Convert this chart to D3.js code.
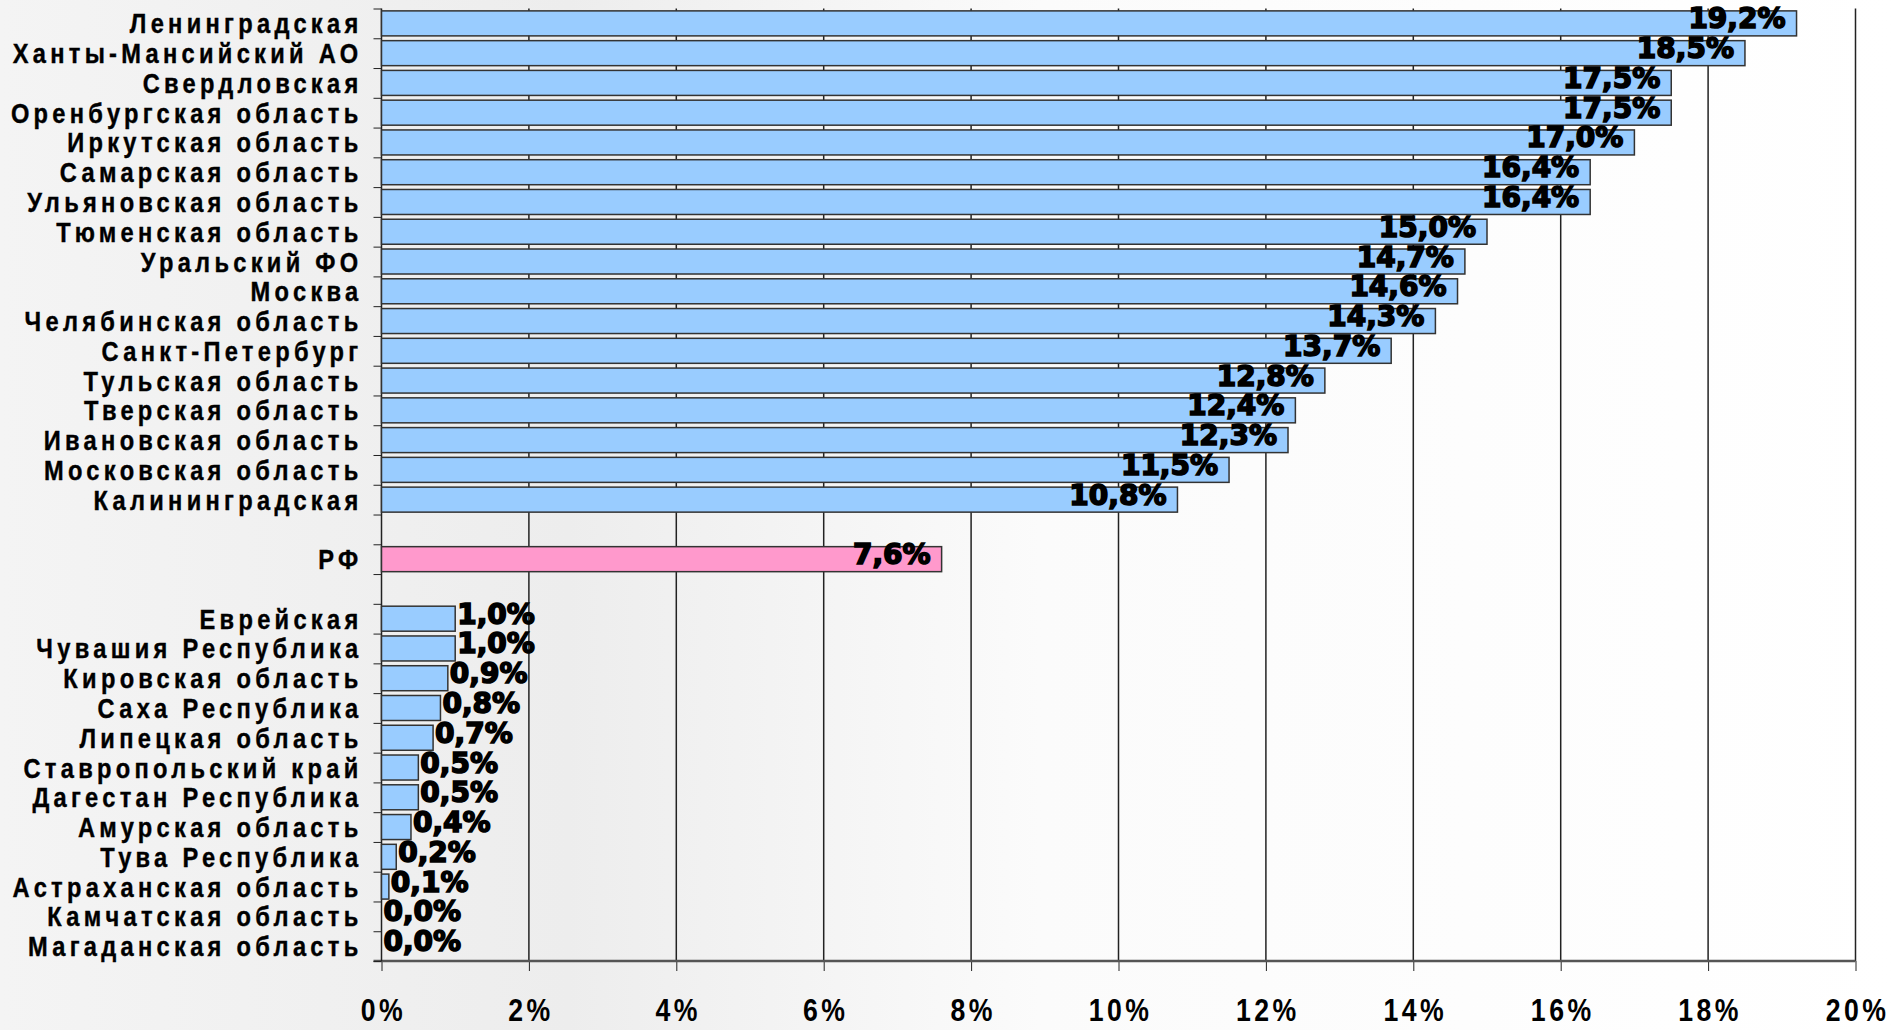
<!DOCTYPE html>
<html>
<head>
<meta charset="utf-8">
<script src="https://cdn.jsdelivr.net/npm/d3@7"></script>
<style>
  html, body { margin: 0; padding: 0; overflow: hidden; }
  svg { display: block; }
</style>
</head>
<body>
<svg id="chart" width="1893" height="1030"></svg>
<script>
// categories, top to bottom ("" = empty slot)
var regions = ["Ленинградская", "Ханты-Мансийский АО", "Свердловская", "Оренбургская область",
  "Иркутская область", "Самарская область", "Ульяновская область", "Тюменская область",
  "Уральский ФО", "Москва", "Челябинская область", "Санкт-Петербург", "Тульская область",
  "Тверская область", "Ивановская область", "Московская область", "Калининградская",
  "", "РФ", "",
  "Еврейская", "Чувашия Республика", "Кировская область", "Саха Республика",
  "Липецкая область", "Ставропольский край", "Дагестан Республика", "Амурская область",
  "Тува Республика", "Астраханская область", "Камчатская область", "Магаданская область"];

// values, %
var values = [19.2, 18.5, 17.5, 17.5, 17.0, 16.4, 16.4, 15.0, 14.7, 14.6, 14.3, 13.7, 12.8,
  12.4, 12.3, 11.5, 10.8, null, 7.6, null,
  1.0, 1.0, 0.9, 0.8, 0.7, 0.5, 0.5, 0.4, 0.2, 0.1, 0.0, 0.0];

var xTicks = [0, 2, 4, 6, 8, 10, 12, 14, 16, 18, 20];
var highlight = "РФ";

var margin = {top: 8.5, right: 37.5, bottom: 69, left: 381.5};

var svg = d3.select("#chart"),
  width = +svg.attr("width") - margin.left - margin.right,
  height = +svg.attr("height") - margin.top - margin.bottom;

// background gradient
var defs = svg.append("defs");
var grad = defs.append("linearGradient").attr("id", "bg")
  .attr("x1", "0%").attr("y1", "0%").attr("x2", "100%").attr("y2", "0%");
grad.append("stop").attr("offset", "0%").attr("stop-color", "#f4f4f4");
grad.append("stop").attr("offset", "30%").attr("stop-color", "#ededed");
grad.append("stop").attr("offset", "55%").attr("stop-color", "#fbfbfb");
grad.append("stop").attr("offset", "100%").attr("stop-color", "#ffffff");

svg.append("rect")
  .attr("width", 1893).attr("height", 1030)
  .attr("fill", "url(#bg)");

var g = svg.append("g")
  .attr("transform", "translate(" + margin.left + "," + margin.top + ")");

var x = d3.scaleLinear().domain([0, 20]).range([0, width]);

var y = d3.scaleBand()
  .domain(d3.range(regions.length))
  .range([0, height])
  .paddingInner(0.16)
  .paddingOuter(0.08);

// slot boundaries for the y ticks
var yEdge = d3.scaleLinear().domain([0, regions.length]).range([0, height]);

var labelFont = "'Liberation Sans', Arial, sans-serif";
var squeeze = 0.86;   // narrow look of the labels

// vertical grid
g.append("g")
  .selectAll("line")
  .data(xTicks.slice(1))
  .enter()
  .append("line")
    .attr("x1", function(d) { return x(d); })
    .attr("x2", function(d) { return x(d); })
    .attr("y1", 0)
    .attr("y2", height)
    .attr("stroke", "#222")
    .attr("stroke-width", 1.5);

// x axis
var xAxis = g.append("g")
  .attr("transform", "translate(0," + height + ")")
  .call(d3.axisBottom(x).tickValues(xTicks).tickSize(10).tickSizeOuter(0)
    .tickFormat(function(d) { return d + "%"; }));

xAxis.select(".domain").remove();
xAxis.append("line")
  .attr("x1", -8).attr("x2", width)
  .attr("y1", 0).attr("y2", 0)
  .attr("stroke", "#555").attr("stroke-width", 2.5);
xAxis.selectAll(".tick line").attr("stroke", "#222");
xAxis.selectAll(".tick text")
  .attr("y", null)
  .attr("dy", null)
  .attr("transform", "translate(1.5,60) scale(" + squeeze + ",1)")
  .attr("fill", "#000")
  .style("font-family", labelFont)
  .style("font-weight", "bold")
  .style("font-size", "31px")
  .style("letter-spacing", "4px");

// y axis ticks at slot edges
var yAxis = g.append("g")
  .call(d3.axisLeft(yEdge).tickValues(d3.range(regions.length + 1)).tickSize(8)
    .tickFormat(""));
yAxis.select(".domain")
  .attr("d", "M0,0V" + height)
  .attr("stroke", "#222").attr("stroke-width", 1.5);
yAxis.selectAll(".tick line").attr("stroke", "#222");

// category labels
g.append("g")
  .selectAll("text")
  .data(regions)
  .enter()
  .append("text")
    .attr("transform", function(d, i) {
      return "translate(-19," + (y(i) + y.bandwidth() / 2 + 10) + ") scale(" + squeeze + ",1)";
    })
    .attr("text-anchor", "end")
    .style("font-family", labelFont)
    .style("font-weight", "bold")
    .style("font-size", "27.5px")
    .style("letter-spacing", "5px")
    .attr("fill", "#000")
    .attr("stroke", "#000")
    .attr("stroke-width", 0.4)
    .text(function(d) { return d; });

// bars
var rows = regions.map(function(r, i) { return {name: r, value: values[i], i: i}; })
  .filter(function(d) { return d.value !== null; });

g.append("g")
  .selectAll("rect")
  .data(rows)
  .enter()
  .append("rect")
    .attr("x", 0)
    .attr("y", function(d) { return y(d.i); })
    .attr("width", function(d) { return x(d.value); })
    .attr("height", y.bandwidth())
    .attr("fill", function(d) { return d.name === highlight ? "#ff99cc" : "#99ccff"; })
    .attr("stroke", "#333")
    .attr("stroke-width", 1.5);

// value labels
g.append("g")
  .selectAll("text")
  .data(rows)
  .enter()
  .append("text")
    .attr("x", function(d) { return d.value > 5 ? x(d.value) - 11 : x(d.value) + 2; })
    .attr("y", function(d) { return y(d.i) + y.bandwidth() / 2 + 5; })
    .attr("text-anchor", function(d) { return d.value > 5 ? "end" : "start"; })
    .style("font-family", "'DejaVu Sans', sans-serif")
    .style("font-weight", "bold")
    .style("font-size", "28px")
    .attr("fill", "#000")
    .attr("stroke", "#000")
    .attr("stroke-width", 1.6)
    .text(function(d) { return d3.format(".1f")(d.value).replace(".", ",") + "%"; });
</script>
</body>
</html>
